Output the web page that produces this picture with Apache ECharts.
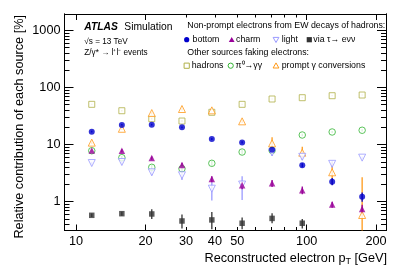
<!DOCTYPE html>
<html>
<head>
<meta charset="utf-8">
<script src="https://cdn.jsdelivr.net/npm/echarts@6/dist/echarts.min.js"></script>
<style>
html,body{margin:0;padding:0;background:#fff;}
#c{width:407px;height:276px;}
</style>
</head>
<body>
<div id="c"></div>
<script>
// ---- data (pT bin centres in GeV, contributions in %) ----
var ptCenters = [11.7, 15.8, 21.3, 28.8, 38.8, 52.5, 70.8, 95.7, 129, 174];

var bottomVal = [16.8, 22.0, 22.3, 20.0, 12.5, 10.9, 8.1, 4.33, 2.24, 1.22];
var bottomLo  = [16.2, 21.2, 21.5, 19.3, 12.0, 10.4, 7.6, 4.0, 1.95, 1.0];
var bottomHi  = [17.4, 22.8, 23.1, 20.7, 13.0, 11.4, 8.6, 4.7, 2.6, 1.45];

var charmVal = [7.9, 7.8, 5.8, 4.4, 2.5, 1.94, 2.1, 1.58, 0.89, 0.745];
var charmLo  = [7.5, 7.3, 5.4, 4.0, 2.2, 1.65, 1.8, 1.35, 0.78, 0.62];
var charmHi  = [8.3, 8.3, 6.2, 4.8, 2.8, 2.25, 2.4, 1.85, 1.0, 0.88];

var lightVal = [4.75, 4.95, 3.27, 2.9, 1.69, 2.0, 7.3, 6.1, 4.6, 5.9];
var lightLo  = [4.5, 4.6, 2.9, 2.4, 1.05, 1.07, 6.3, 5.4, 4.0, 5.6];
var lightHi  = [5.0, 5.3, 3.6, 3.4, 2.2, 2.8, 8.0, 6.7, 5.2, 6.2];

var tauVal = [0.578, 0.617, 0.61, 0.46, 0.48, 0.42, 0.51, 0.42];
var tauLo  = [0.54, 0.57, 0.5, 0.34, 0.33, 0.33, 0.42, 0.34];
var tauHi  = [0.62, 0.67, 0.74, 0.6, 0.66, 0.53, 0.63, 0.5];

var hadronVal = [50.6, 39.1, 28.3, 25.8, 36.7, 50.6, 62.7, 66.1, 71.6, 73.6];
var hadronLo  = [49.5, 38.0, 27.4, 25.0, 35.6, 49.5, 61.5, 64.8, 70.2, 72.0];
var hadronHi  = [51.7, 40.2, 29.2, 26.6, 37.8, 51.7, 63.9, 67.4, 73.0, 75.2];

var pi0Val = [7.8, 5.9, 4.0, 3.78, 4.7, 7.4, 7.9, 14.7, 16.6, 17.8];
var pi0Lo  = [7.4, 5.5, 3.6, 3.3, 4.2, 6.8, 7.0, 14.0, 15.9, 17.0];
var pi0Hi  = [8.2, 6.3, 4.4, 4.3, 5.2, 8.0, 8.8, 15.4, 17.3, 18.6];

var promptVal = [10.8, 18.9, 35.6, 41.9, 39.7, 25.5, 10.5, 7.2, 3.27, 0.585];
var promptLo  = [10.2, 18.0, 33.5, 39.5, 37.5, 23.8, 8.6, 5.7, 1.96, 0.1];
var promptHi  = [11.4, 19.8, 37.7, 44.3, 42.0, 27.2, 13.4, 9.2, 5.0, 2.67];

var xLabelTicks = [10, 20, 30, 40, 50, 100, 200];
var xMajorTicks = [10, 20, 100, 200];
var xMinorTicks = [30, 40, 50, 60, 70, 80, 90];
var yLabelTicks = [1, 10, 100, 1000];
var yMinorTicks = [0.4, 0.5, 0.6, 0.7, 0.8, 0.9, 2, 3, 4, 5, 6, 7, 8, 9, 20, 30, 40, 50, 60, 70, 80, 90, 200, 300, 400, 500, 600, 700, 800, 900];

// ---- helpers ----
var L = Math.log10;
var X_MIN = 0.950, X_MAX = 2.344;
var Y_MIN = -0.504, Y_MAX = 3.285;
var FONT = 'Liberation Sans, Arial, Helvetica, sans-serif';

function pts(vals) { return vals.map(function (v, i) { return [L(ptCenters[i]), L(v)]; }); }
function bars(lo, hi) { return lo.map(function (l, i) { return [L(ptCenters[i]), L(l), L(hi[i])]; }); }

function errSeries(lo, hi, color) {
  return {
    type: 'custom', clip: true, z: 2, silent: true,
    data: bars(lo, hi),
    renderItem: function (params, api) {
      var x = api.value(0);
      var p1 = api.coord([x, api.value(1)]);
      var p2 = api.coord([x, api.value(2)]);
      return { type: 'line', shape: { x1: p1[0], y1: p1[1], x2: p2[0], y2: p2[1] },
               style: { stroke: color, lineWidth: 1.3 } };
    }
  };
}
function ptSeries(name, vals, color, symbol, hollow, rotate, size) {
  return {
    name: name, type: 'scatter', z: 3, data: pts(vals),
    symbol: symbol, symbolSize: size || 6, symbolRotate: rotate || 0,
    itemStyle: hollow ? { color: '#ffffff', borderColor: color, borderWidth: 1 } : { color: color }
  };
}

var C = {
  bottom: '#0000cc', charm: '#990099', light: '#9a9aff', tau: '#333333',
  hadron: '#b0b048', pi0: '#33b533', prompt: '#ff9a1a'
};

function xAxisDef(pos, ticks, len, labels) {
  return {
    type: 'value', min: X_MIN, max: X_MAX, position: pos,
    axisLine: { show: true, onZero: false, lineStyle: { color: '#000', width: 1 } },
    axisTick: { show: true, inside: true, length: len, customValues: ticks.map(L), lineStyle: { color: '#000', width: 1 } },
    axisLabel: labels ? {
      show: true, customValues: labels.map(L), margin: 4, color: '#000', fontSize: 12.7, fontFamily: FONT,
      formatter: function (v) { return String(Math.round(Math.pow(10, v))); }
    } : { show: false },
    splitLine: { show: false }
  };
}
function yAxisDef(pos, ticks, len, labels) {
  return {
    type: 'value', min: Y_MIN, max: Y_MAX, position: pos,
    axisLine: { show: true, onZero: false, lineStyle: { color: '#000', width: 1 } },
    axisTick: { show: true, inside: true, length: len, customValues: ticks.map(L), lineStyle: { color: '#000', width: 1 } },
    axisLabel: labels ? {
      show: true, customValues: labels.map(L), margin: 4, color: '#000', fontSize: 12.7, fontFamily: FONT,
      formatter: function (v) { return String(Math.round(Math.pow(10, v))); }
    } : { show: false },
    splitLine: { show: false }
  };
}

// legend marker graphics
function gCircle(x, y, color, hollow) {
  return { type: 'circle', shape: { cx: x, cy: y, r: 2.6 }, style: hollow ? { fill: '#fff', stroke: color, lineWidth: 1 } : { fill: color } };
}
function gRect(x, y, color, hollow) {
  return { type: 'rect', shape: { x: x - 2.6, y: y - 2.6, width: 5.2, height: 5.2 }, style: hollow ? { fill: '#fff', stroke: color, lineWidth: 1 } : { fill: color } };
}
function gTri(x, y, color, hollow, down) {
  var s = down ? -1 : 1;
  return { type: 'polygon', shape: { points: [[x, y - 2.8 * s], [x + 2.9, y + 2.3 * s], [x - 2.9, y + 2.3 * s]] },
           style: hollow ? { fill: '#fff', stroke: color, lineWidth: 1 } : { fill: color } };
}
function gText(x, y, txt, size, extra) {
  var st = { text: txt, x: 0, y: 0, fill: '#000', fontSize: size, fontFamily: FONT, verticalAlign: 'middle', align: 'left' };
  if (extra) for (var k in extra) st[k] = extra[k];
  return { type: 'text', x: x, y: y, style: st };
}

var LS = 8.8;
var chart = echarts.init(document.getElementById('c'), null, { renderer: 'canvas' });
chart.setOption({
  animation: false,
  backgroundColor: '#ffffff',
  grid: { left: 64.5, right: 21, top: 14, bottom: 45.5 },
  xAxis: [
    xAxisDef('bottom', xMajorTicks, 6, xLabelTicks),
    xAxisDef('bottom', xMinorTicks, 3.5, null),
    xAxisDef('top', xMajorTicks, 6, null),
    xAxisDef('top', xMinorTicks, 3.5, null)
  ],
  yAxis: [
    yAxisDef('left', yLabelTicks, 9, yLabelTicks),
    yAxisDef('left', yMinorTicks, 5, null),
    yAxisDef('right', yLabelTicks, 9, null),
    yAxisDef('right', yMinorTicks, 5, null)
  ],
  series: [
    errSeries(hadronLo, hadronHi, C.hadron),
    errSeries(pi0Lo, pi0Hi, C.pi0),
    errSeries(promptLo, promptHi, C.prompt),
    errSeries(lightLo, lightHi, C.light),
    errSeries(charmLo, charmHi, C.charm),
    errSeries(bottomLo, bottomHi, C.bottom),
    errSeries(tauLo, tauHi, C.tau),
    ptSeries('hadrons', hadronVal, C.hadron, 'rect', true, 0, 6),
    ptSeries('π⁰→γγ', pi0Val, C.pi0, 'circle', true, 0, 6.5),
    ptSeries('prompt γ conversions', promptVal, C.prompt, 'triangle', true, 0, 7),
    ptSeries('light', lightVal, C.light, 'triangle', true, 180, 7),
    ptSeries('charm', charmVal, C.charm, 'triangle', false, 0, 6.5),
    ptSeries('bottom', bottomVal, C.bottom, 'circle', false, 0, 6),
    ptSeries('via τ→ eνν', tauVal, C.tau, 'rect', false, 0, 5.5)
  ],
  graphic: [
    gText(84.3, 27, 'ATLAS', 10.3, { fontWeight: 'bold', fontStyle: 'italic' }),
    gText(124.3, 27, 'Simulation', 10.3),
    gText(84.3, 41.3, '√s = 13 TeV', 8.2),
    gText(84.3, 52.3, 'Z/γ* → l⁺l⁻ events', 8.2),
    gText(187.3, 26, 'Non-prompt electrons from EW decays of hadrons:', LS),
    gCircle(186.7, 39.7, C.bottom, false), gText(192.5, 39.7, 'bottom', LS),
    gTri(231.7, 39.7, C.charm, false, false), gText(236, 39.7, 'charm', LS),
    gTri(276, 39.7, C.light, true, true), gText(281.7, 39.7, 'light', LS),
    gRect(309.3, 39.7, C.tau, false), gText(313.3, 39.7, 'via τ→ eνν', LS),
    gText(187.3, 53, 'Other sources faking electrons:', LS),
    gRect(186.7, 65.7, C.hadron, true), gText(191.7, 65.7, 'hadrons', LS),
    gCircle(230.7, 65.7, C.pi0, true), gText(235.5, 65.7, 'π⁰→γγ', LS),
    gTri(276, 65.7, C.prompt, true, false), gText(281.7, 65.7, 'prompt γ conversions', LS),
    { type: 'text', x: 19, y: 15, rotation: Math.PI / 2,
      style: { text: 'Relative contribution of each source [%]', fill: '#000', fontSize: 12.7, fontFamily: FONT, align: 'right', verticalAlign: 'middle' } },
    { type: 'text', x: 387, y: 258,
      style: { text: '{a|Reconstructed electron p}{s|T}{a| [GeV]}', fill: '#000', fontFamily: FONT, align: 'right', verticalAlign: 'middle',
        rich: { a: { fontSize: 12.7, fontFamily: FONT, lineHeight: 16, verticalAlign: 'middle' },
                s: { fontSize: 9, fontFamily: FONT, lineHeight: 16, padding: [9, 0, 0, 0], verticalAlign: 'bottom' } } } }
  ]
});
</script>
</body>
</html>
